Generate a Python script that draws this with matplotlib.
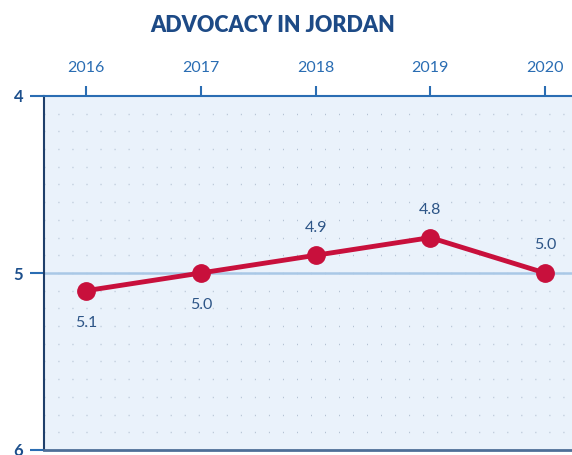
import matplotlib.pyplot as plt
import numpy as np

plt.rcParams['font.family'] = ['Lato', 'DejaVu Sans']

years = [2016, 2017, 2018, 2019, 2020]
scores = [5.1, 5.0, 4.9, 4.8, 5.0]
labels = ['5.1', '5.0', '4.9', '4.8', '5.0']
label_below = [True, True, False, False, False]

fig = plt.figure(figsize=(5.72, 4.55), dpi=100)
ax = fig.add_axes([44 / 572, 1 - 450 / 455, 1 - 44 / 572 + 0.002, (450 - 96) / 455])
ax.set_facecolor('#eaf2fb')

# dotted grid rows every 0.1
for yv in np.arange(4.1, 6.0, 0.1):
    ax.axhline(yv, color='#a9b8cb', lw=1.0, linestyle=(0, (0.6, 9.5)), zorder=1)
ax.axhline(5, color='#a9c8e6', lw=1.8, zorder=2)

ax.plot(years, scores, color='#c8103c', lw=3.5, marker='o', markersize=12.5,
        zorder=3, solid_capstyle='round')

for x, y, t, below in zip(years, scores, labels, label_below):
    off = -23 if below else 20
    ax.annotate(t, (x, y), xytext=(0, off), textcoords='offset points',
                ha='center', va='center', fontsize=11.5, color='#2d5587')

ax.set_xlim(2015.633, 2020.245)
ax.set_ylim(6, 4)
ax.xaxis.tick_top()
ax.set_xticks(years)
ax.set_xticklabels([str(y) for y in years])
ax.tick_params(axis='x', direction='out', length=7, width=1.5, color='#2a6db3',
               labelcolor='#2a6db3', labelsize=11.5, pad=8)
ax.set_yticks([4, 5, 6])
ax.set_yticklabels(['4', '5', '6'])
ax.tick_params(axis='y', direction='out', length=10, width=1.5, color='#2a6db3',
               labelcolor='#1c4f8c', labelsize=12, pad=5)
for lab in ax.get_yticklabels():
    lab.set_fontweight('bold')

ax.spines['top'].set_color('#2a6db3')
ax.spines['top'].set_linewidth(1.5)
ax.spines['left'].set_color('#1f3f6b')
ax.spines['left'].set_linewidth(1.5)
ax.spines['bottom'].set_color('#4f6f98')
ax.spines['bottom'].set_linewidth(2)
ax.spines['right'].set_visible(False)

fig.text(0.477, 1 - 25 / 455, 'ADVOCACY IN JORDAN', ha='center', va='center',
         fontsize=15.5, fontweight='heavy', color='#1d4a86')

fig.savefig('out.png', dpi=100)
